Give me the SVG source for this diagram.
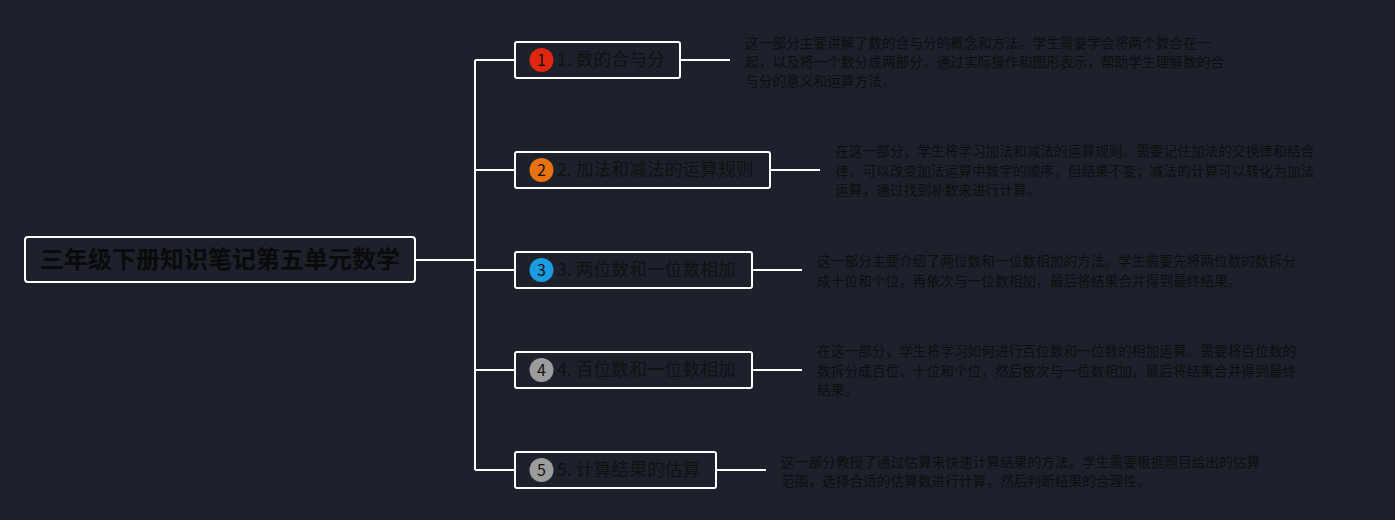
<svg xmlns="http://www.w3.org/2000/svg" width="1395" height="520" viewBox="0 0 1395 520">
<style>
.bg{fill:#1c212b}
.box{fill:#1c212b;stroke:#ffffff;stroke-width:2}
.conn{fill:none;stroke:#ffffff;stroke-width:2}
.root{font-family:"Noto Sans CJK SC",sans-serif;font-size:24px;font-weight:bold;fill:#0a0a0a}
.lbl{font-family:"Noto Sans CJK SC",sans-serif;font-size:17.8px;fill:#111111}
.num{font-family:"Noto Sans CJK SC",sans-serif;font-size:16px;fill:#111111;text-anchor:middle}
.desc{font-family:"Noto Sans CJK SC",sans-serif;font-size:13.7px;fill:#0e0e0e}
</style>
<rect class="bg" x="0" y="0" width="1395" height="520"/>
<g id="connectors">
<path class="conn" d="M415 260H475M475 60V470M475 60H515M475 170H515M475 270H515M475 370H515M475 470H515"/>
<path class="conn" d="M680 60H730M770 170H820M752 270H802M752 370H802M716 470H766"/>
</g>
<g id="root">
<rect class="box" x="25" y="237" width="390" height="45" rx="3"/>
<text class="root" x="220" y="268" text-anchor="middle">三年级下册知识笔记第五单元数学</text>
</g>
<g id="node1">
<rect class="box" x="515" y="42" width="165" height="36" rx="2"/>
<circle cx="541.5" cy="60" r="12" fill="#e0260e"/>
<text class="num" x="541.5" y="66">1</text>
<text class="lbl" x="557" y="66">1. 数的合与分</text>
</g>
<g id="desc1">
<text class="desc" x="745" y="48">这一部分主要讲解了数的合与分的概念和方法。学生需要学会将两个数合在一</text>
<text class="desc" x="745" y="67">起，以及将一个数分成两部分。通过实际操作和图形表示，帮助学生理解数的合</text>
<text class="desc" x="745" y="86">与分的意义和运算方法。</text>
</g>
<g id="node2">
<rect class="box" x="515" y="152" width="255" height="36" rx="2"/>
<circle cx="541.5" cy="170" r="12" fill="#e8720f"/>
<text class="num" x="541.5" y="176">2</text>
<text class="lbl" x="557" y="176">2. 加法和减法的运算规则</text>
</g>
<g id="desc2">
<text class="desc" x="835" y="156">在这一部分，学生将学习加法和减法的运算规则。需要记住加法的交换律和结合</text>
<text class="desc" x="835" y="176">律，可以改变加法运算中数字的顺序，但结果不变；减法的计算可以转化为加法</text>
<text class="desc" x="835" y="195">运算，通过找到补数来进行计算。</text>
</g>
<g id="node3">
<rect class="box" x="515" y="252" width="237" height="36" rx="2"/>
<circle cx="541.5" cy="270" r="12" fill="#1b9be0"/>
<text class="num" x="541.5" y="276">3</text>
<text class="lbl" x="557" y="276">3. 两位数和一位数相加</text>
</g>
<g id="desc3">
<text class="desc" x="817" y="266">这一部分主要介绍了两位数和一位数相加的方法。学生需要先将两位数的数拆分</text>
<text class="desc" x="817" y="286">成十位和个位，再依次与一位数相加，最后将结果合并得到最终结果。</text>
</g>
<g id="node4">
<rect class="box" x="515" y="352" width="237" height="36" rx="2"/>
<circle cx="541.5" cy="370" r="12" fill="#9c9c9c"/>
<text class="num" x="541.5" y="376">4</text>
<text class="lbl" x="557" y="376">4. 百位数和一位数相加</text>
</g>
<g id="desc4">
<text class="desc" x="817" y="356">在这一部分，学生将学习如何进行百位数和一位数的相加运算。需要将百位数的</text>
<text class="desc" x="817" y="376">数拆分成百位、十位和个位，然后依次与一位数相加，最后将结果合并得到最终</text>
<text class="desc" x="817" y="395">结果。</text>
</g>
<g id="node5">
<rect class="box" x="515" y="452" width="201" height="36" rx="2"/>
<circle cx="541.5" cy="470" r="12" fill="#9c9c9c"/>
<text class="num" x="541.5" y="476">5</text>
<text class="lbl" x="557" y="476">5. 计算结果的估算</text>
</g>
<g id="desc5">
<text class="desc" x="781" y="467">这一部分教授了通过估算来快速计算结果的方法。学生需要根据题目给出的估算</text>
<text class="desc" x="781" y="486">范围，选择合适的估算数进行计算，然后判断结果的合理性。</text>
</g>
</svg>
